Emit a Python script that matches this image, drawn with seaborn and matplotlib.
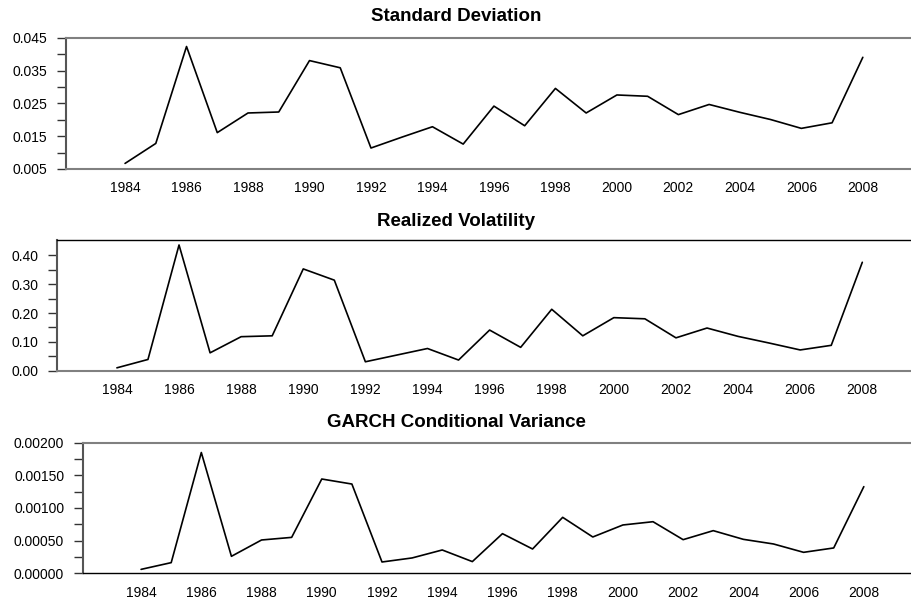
import numpy as np
import pandas as pd
import matplotlib
matplotlib.use('Agg')
import matplotlib.pyplot as plt
import seaborn as sns
from matplotlib.ticker import FormatStrFormatter

# данные
years = list(range(1984, 2009))

std_dev = [0.0067, 0.0128, 0.0424, 0.0161, 0.0221, 0.0224, 0.0381, 0.0359,
           0.0114, 0.0147, 0.0179, 0.0126, 0.0242, 0.0182, 0.0296, 0.0221,
           0.0276, 0.0272, 0.0216, 0.0247, 0.0223, 0.0201, 0.0174, 0.0191,
           0.0391]

realized_vol = [0.010, 0.039, 0.436, 0.062, 0.118, 0.121, 0.353, 0.314,
                0.031, 0.054, 0.077, 0.037, 0.141, 0.081, 0.213, 0.121,
                0.184, 0.180, 0.114, 0.148, 0.119, 0.096, 0.072, 0.088,
                0.376]

garch_var = [0.00006, 0.000163, 0.00185, 0.00026, 0.00051, 0.00055, 0.001444,
             0.001367, 0.000173, 0.000235, 0.000357, 0.000179, 0.000607,
             0.000372, 0.000857, 0.000556, 0.00074, 0.00079, 0.000515,
             0.000653, 0.00052, 0.000449, 0.000321, 0.000388, 0.001327]

titles = ['Standard Deviation', 'Realized Volatility', 'GARCH Conditional Variance']
year_ticks = list(range(1984, 2009, 2))

sd_ticks = [0.005, 0.015, 0.025, 0.035, 0.045]
rv_ticks = [0.0, 0.1, 0.2, 0.3, 0.4]
gv_ticks = [0.0, 0.0005, 0.0010, 0.0015, 0.0020]

sns.set_style('white')
plt.rcParams['font.family'] = ['Liberation Sans', 'DejaVu Sans']
plt.rcParams['text.color'] = 'black'
plt.rcParams['xtick.labelcolor'] = 'black'
plt.rcParams['ytick.labelcolor'] = 'black'

fig = plt.figure(figsize=(9.12, 6.02), dpi=100)

# позиции осей и оформление для каждой панели
panels = [
    dict(rect=[0.0724, 0.7193, 0.9276, 0.2176], y=std_dev, ylim=(0.005, 0.045),
         ticks=sd_ticks, fmt='%.3f', top='#808080', bottom='#808080', ty=0.9718),
    dict(rect=[0.0628, 0.3842, 0.9372, 0.2171], y=realized_vol, ylim=(0.0, 0.4532),
         ticks=rv_ticks, fmt='%.2f', top='#000000', bottom='#808080', ty=0.6317),
    dict(rect=[0.0913, 0.0477, 0.9087, 0.2169], y=garch_var, ylim=(0.0, 0.002),
         ticks=gv_ticks, fmt='%.5f', top='#808080', bottom='#000000', ty=0.2978),
]

for p, title in zip(panels, titles):
    ax = fig.add_axes(p['rect'])
    df = pd.DataFrame({'year': years, 'value': p['y']})
    sns.lineplot(data=df, x='year', y='value', ax=ax, color='black', linewidth=1.2)
    ax.set_xlim(1982.08, 2009.6)
    ax.set_ylim(*p['ylim'])
    ax.set_xticks(year_ticks)
    t = np.array(p['ticks'])
    ax.set_yticks(t)
    ax.set_yticks((t[:-1] + t[1:]) / 2, minor=True)
    ax.yaxis.set_major_formatter(FormatStrFormatter(p['fmt']))
    ax.set_xlabel('')
    ax.set_ylabel('')
    ax.tick_params(axis='x', length=0, pad=9, labelsize=10, labelcolor='black')
    ax.tick_params(axis='y', which='both', direction='out', length=6.2, width=1.0,
                   color='#333333', pad=7.5, labelsize=10, labelcolor='black', left=True)
    ax.spines['right'].set_visible(False)
    ax.spines['left'].set_color('#555555')
    ax.spines['left'].set_linewidth(1.5)
    ax.spines['top'].set_color(p['top'])
    ax.spines['top'].set_linewidth(1.5 if p['top'] != '#000000' else 1.0)
    ax.spines['bottom'].set_color(p['bottom'])
    ax.spines['bottom'].set_linewidth(1.5 if p['bottom'] != '#000000' else 1.0)
    fig.text(0.5, p['ty'], title, ha='center', va='center', fontsize=13.5,
             fontweight='bold', color='black')

fig.savefig('out.png', dpi=100)
